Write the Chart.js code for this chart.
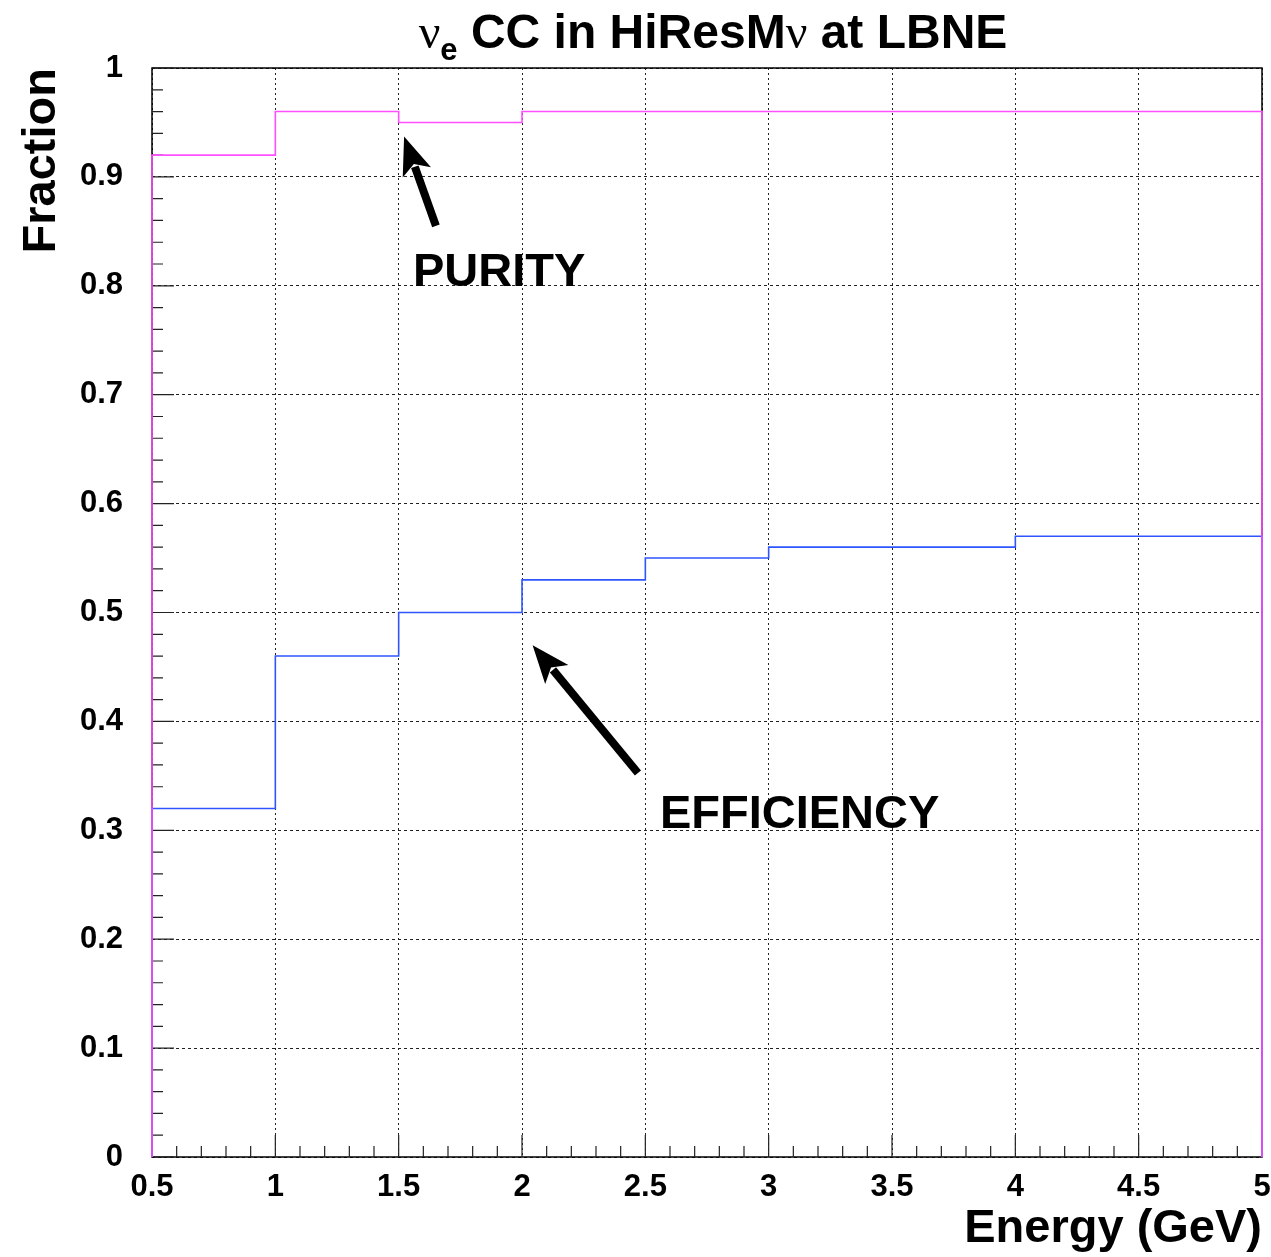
<!DOCTYPE html>
<html>
<head>
    <meta charset="UTF-8">
    <title>nu_e CC in HiResMnu at LBNE</title>
    <script src="https://cdn.jsdelivr.net/npm/chart.js@4.4.1/dist/chart.umd.min.js"></script>
    <style>
        html, body { margin: 0; padding: 0; background: #fff; }
        .box { width: 1271px; height: 1257px; position: relative; }
    </style>
</head>
<body>

<div class="box">
    <canvas id="myChart"></canvas>
</div>

<script>
    // bin edges (GeV) and the fraction in each bin
    var binEdges   = [0.5, 1, 1.5, 2, 2.5, 3, 4, 5];
    var purity     = [0.92, 0.96, 0.95, 0.96, 0.96, 0.96, 0.96];
    var efficiency = [0.32, 0.46, 0.50, 0.53, 0.55, 0.56, 0.57];
    var xTicks     = [0.5, 1, 1.5, 2, 2.5, 3, 3.5, 4, 4.5, 5];
    var yTicks     = [0, 0.1, 0.2, 0.3, 0.4, 0.5, 0.6, 0.7, 0.8, 0.9, 1];

    var FONT = '"Liberation Sans", Arial, Helvetica, sans-serif';

    // histogram outline like ROOT draws it: down to zero at both ends
    function histPoints(edges, vals) {
        var pts = [{x: edges[0], y: 0}];
        vals.forEach(function(v, i) {
            pts.push({x: edges[i], y: v});
            pts.push({x: edges[i + 1], y: v});
        });
        pts.push({x: edges[edges.length - 1], y: 0});
        return pts;
    }

    function fmt(v) {
        return String(Number(v.toFixed(2)));
    }

    function arrow(ctx, x1, y1, x2, y2) {
        var a = Math.atan2(y2 - y1, x2 - x1);
        var hl = 38, hw = 15;
        var bx = x2 - hl * Math.cos(a), by = y2 - hl * Math.sin(a);
        ctx.save();
        ctx.strokeStyle = '#000';
        ctx.fillStyle = '#000';
        ctx.lineWidth = 8;
        ctx.beginPath();
        ctx.moveTo(x1, y1);
        ctx.lineTo(bx + 6 * Math.cos(a), by + 6 * Math.sin(a));
        ctx.stroke();
        ctx.beginPath();
        ctx.moveTo(x2, y2);
        ctx.lineTo(bx + hw * Math.sin(a), by - hw * Math.cos(a));
        ctx.lineTo(bx + 9 * Math.cos(a), by + 9 * Math.sin(a));
        ctx.lineTo(bx - hw * Math.sin(a), by + hw * Math.cos(a));
        ctx.closePath();
        ctx.fill();
        ctx.restore();
    }

    var decor = {
        id: 'decor',
        beforeDatasetsDraw: function(chart) {
            var ctx = chart.ctx;
            var xs = chart.scales.x, ys = chart.scales.y;
            var area = chart.chartArea;

            // frame
            ctx.save();
            ctx.strokeStyle = '#000';
            ctx.lineWidth = 1.5;
            ctx.strokeRect(area.left, area.top, area.right - area.left, area.bottom - area.top);

            // ROOT style ticks, inside the frame
            ctx.lineWidth = 1.2;
            ctx.strokeStyle = '#222';
            ctx.beginPath();
            for (var i = 0; i <= 50; i++) {
                var yp = ys.getPixelForValue(i / 50);
                var len = (i % 5 === 0) ? 22 : 11;
                ctx.moveTo(area.left, yp);
                ctx.lineTo(area.left + len, yp);
            }
            for (var j = 0; j <= 45; j++) {
                var xp = xs.getPixelForValue(0.5 + j / 10);
                var l2 = (j % 5 === 0) ? 22 : 11;
                ctx.moveTo(xp, area.bottom);
                ctx.lineTo(xp, area.bottom - l2);
            }
            ctx.stroke();
            ctx.restore();
        },
        afterDraw: function(chart) {
            var ctx = chart.ctx;
            var xs = chart.scales.x, ys = chart.scales.y;

            // title
            ctx.save();
            ctx.fillStyle = '#000';
            ctx.textBaseline = 'alphabetic';
            var base = 48;
            var parts = [
                {t: 'ν', f: '48px "Liberation Serif", "DejaVu Serif", serif', dy: 0},
                {t: 'e', f: 'bold 31px ' + FONT, dy: 12},
                {t: ' CC in HiResM', f: 'bold 48px ' + FONT, dy: 0},
                {t: 'ν', f: '48px "Liberation Serif", "DejaVu Serif", serif', dy: 0},
                {t: ' at LBNE', f: 'bold 48px ' + FONT, dy: 0}
            ];
            var total = 0;
            parts.forEach(function(p) { ctx.font = p.f; p.w = ctx.measureText(p.t).width; total += p.w; });
            var x = 713 - total / 2;
            parts.forEach(function(p) {
                ctx.font = p.f;
                ctx.fillText(p.t, x, base + p.dy);
                x += p.w;
            });

            // labels and arrows
            ctx.font = 'bold 47px ' + FONT;
            ctx.textAlign = 'left';
            ctx.fillText('PURITY', xs.getPixelForValue(1.558), ys.getPixelForValue(0.80));
            ctx.fillText('EFFICIENCY', xs.getPixelForValue(2.559), ys.getPixelForValue(0.302));
            ctx.restore();

            arrow(ctx, xs.getPixelForValue(1.651), ys.getPixelForValue(0.855),
                       xs.getPixelForValue(1.522), ys.getPixelForValue(0.937));
            arrow(ctx, xs.getPixelForValue(2.470), ys.getPixelForValue(0.3526),
                       xs.getPixelForValue(2.043), ys.getPixelForValue(0.470));
        }
    };

    var mychart = new Chart('myChart', {
        type: 'line',
        data: {
            datasets: [{
                label: 'Purity',
                data: histPoints(binEdges, purity),
                borderColor: '#ff50ff',
                borderWidth: 1.6,
                pointRadius: 0,
                tension: 0,
                fill: false,
                clip: 4
            }, {
                label: 'Efficiency',
                data: histPoints(binEdges, efficiency),
                borderColor: '#2f55ff',
                borderWidth: 1.6,
                pointRadius: 0,
                tension: 0,
                fill: false,
                clip: 4
            }]
        },
        options: {
            responsive: true,
            maintainAspectRatio: false,
            animation: false,
            layout: { padding: { top: 68, right: 9, left: 0, bottom: 0 } },
            plugins: {
                legend: { display: false },
                tooltip: { enabled: false }
            },
            scales: {
                x: {
                    type: 'linear',
                    min: 0.5,
                    max: 5,
                    afterFit: function(s) { s.height = 100; s.paddingLeft = 0; s.paddingRight = 0; },
                    afterBuildTicks: function(s) { s.ticks = xTicks.map(function(v) { return {value: v}; }); },
                    grid: { color: '#222', lineWidth: 1, drawTicks: false },
                    border: { display: false, dash: [2, 3] },
                    ticks: {
                        color: '#000',
                        padding: 12,
                        maxRotation: 0,
                        font: { family: FONT, size: 31, weight: 'bold' },
                        callback: function(v) { return fmt(v); }
                    },
                    title: {
                        display: true,
                        text: 'Energy (GeV)',
                        align: 'end',
                        color: '#000',
                        padding: { top: 0, bottom: 0 },
                        font: { family: FONT, size: 47, weight: 'bold' }
                    }
                },
                y: {
                    min: 0,
                    max: 1,
                    afterFit: function(s) { s.width = 152; s.paddingTop = 0; s.paddingBottom = 0; },
                    afterBuildTicks: function(s) { s.ticks = yTicks.map(function(v) { return {value: v}; }); },
                    grid: { color: '#222', lineWidth: 1, drawTicks: false },
                    border: { display: false, dash: [3, 3] },
                    ticks: {
                        color: '#000',
                        padding: 29,
                        font: { family: FONT, size: 31, weight: 'bold' },
                        callback: function(v) { return fmt(v); }
                    },
                    title: {
                        display: true,
                        text: 'Fraction',
                        align: 'end',
                        color: '#000',
                        padding: { top: 14, bottom: 0 },
                        font: { family: FONT, size: 47, weight: 'bold' }
                    }
                }
            }
        },
        plugins: [decor]
    });
</script>

</body>
</html>
